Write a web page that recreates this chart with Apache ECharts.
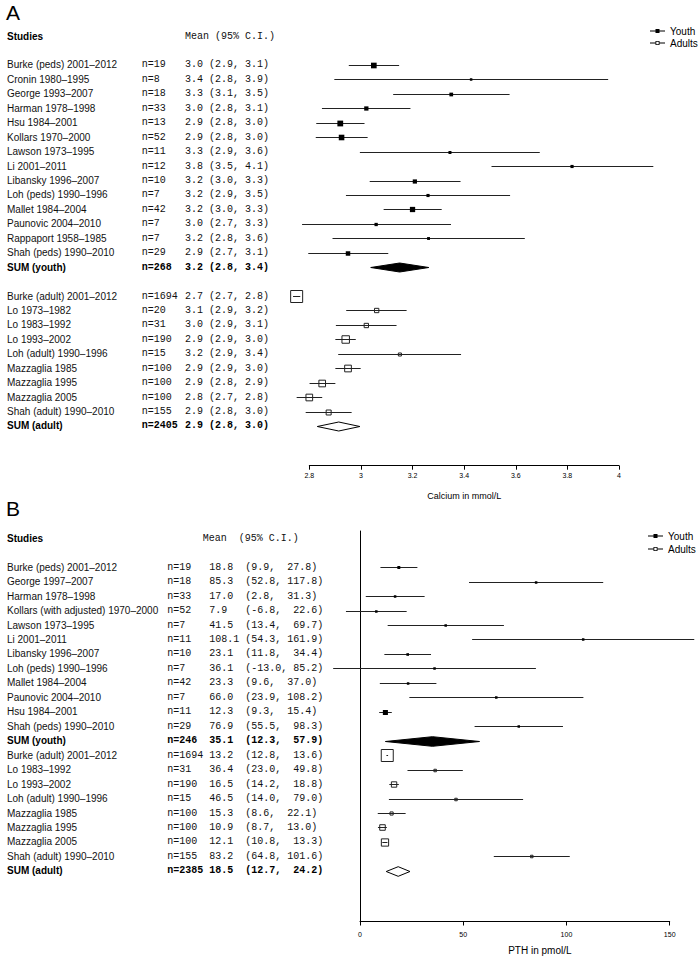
<!DOCTYPE html>
<html><head><meta charset="utf-8">
<script src="https://cdn.jsdelivr.net/npm/echarts@6/dist/echarts.min.js"></script>
<style>html,body{margin:0;padding:0;background:#fff}#c{width:700px;height:956px}</style>
</head><body><div id="c"></div>
<script>
// ---------------- Panel A: Calcium (mmol/L) ----------------
const A_youthNames = ["Burke (peds) 2001–2012", "Cronin 1980–1995", "George 1993–2007", "Harman 1978–1998", "Hsu 1984–2001", "Kollars 1970–2000", "Lawson 1973–1995", "Li 2001–2011", "Libansky 1996–2007", "Loh (peds) 1990–1996", "Mallet 1984–2004", "Paunovic 2004–2010", "Rappaport 1958–1985", "Shah (peds) 1990–2010", "SUM (youth)"];
const A_youthN = [19, 8, 18, 33, 13, 52, 11, 12, 10, 7, 42, 7, 7, 29, 268];
const A_youthText = ["3.0 (2.9, 3.1)", "3.4 (2.8, 3.9)", "3.3 (3.1, 3.5)", "3.0 (2.8, 3.1)", "2.9 (2.8, 3.0)", "2.9 (2.8, 3.0)", "3.3 (2.9, 3.6)", "3.8 (3.5, 4.1)", "3.2 (3.0, 3.3)", "3.2 (2.9, 3.5)", "3.2 (3.0, 3.3)", "3.0 (2.7, 3.3)", "3.2 (2.8, 3.6)", "2.9 (2.7, 3.1)", "3.2 (2.8, 3.4)"];
const A_youthMean = [3.050, 3.427, 3.350, 3.021, 2.920, 2.925, 3.345, 3.818, 3.209, 3.260, 3.200, 3.059, 3.262, 2.950, 3.150];
const A_youthLow  = [2.953, 2.897, 3.125, 2.849, 2.827, 2.825, 2.996, 3.506, 3.034, 2.942, 3.088, 2.772, 2.890, 2.796, 3.038];
const A_youthHigh = [3.148, 3.958, 3.576, 3.192, 3.014, 3.026, 3.693, 4.133, 3.386, 3.578, 3.313, 3.349, 3.635, 3.106, 3.263];

const A_adultNames = ["Burke (adult) 2001–2012", "Lo 1973–1982", "Lo 1983–1992", "Lo 1993–2002", "Loh (adult) 1990–1996", "Mazzaglia 1985", "Mazzaglia 1995", "Mazzaglia 2005", "Shah (adult) 1990–2010", "SUM (adult)"];
const A_adultN = [1694, 20, 31, 190, 15, 100, 100, 100, 155, 2405];
const A_adultText = ["2.7 (2.7, 2.8)", "3.1 (2.9, 3.2)", "3.0 (2.9, 3.1)", "2.9 (2.9, 3.0)", "3.2 (2.9, 3.4)", "2.9 (2.9, 3.0)", "2.9 (2.8, 2.9)", "2.8 (2.7, 2.8)", "2.9 (2.8, 3.0)", "2.9 (2.8, 3.0)"];
const A_adultMean = [2.751, 3.061, 3.021, 2.941, 3.151, 2.950, 2.850, 2.800, 2.875, 2.914];
const A_adultLow  = [2.737, 2.943, 2.903, 2.901, 2.912, 2.901, 2.801, 2.751, 2.786, 2.831];
const A_adultHigh = [2.765, 3.177, 3.138, 2.980, 3.388, 2.999, 2.901, 2.850, 2.964, 2.996];

// ---------------- Panel B: PTH (pmol/L) ----------------
const B_youthNames = ["Burke (peds) 2001–2012", "George 1997–2007", "Harman 1978–1998", "Kollars (with adjusted) 1970–2000", "Lawson 1973–1995", "Li 2001–2011", "Libansky 1996–2007", "Loh (peds) 1990–1996", "Mallet 1984–2004", "Paunovic 2004–2010", "Hsu 1984–2001", "Shah (peds) 1990–2010", "SUM (youth)"];
const B_youthN = [19, 18, 33, 52, 7, 11, 10, 7, 42, 7, 11, 29, 246];
const B_youthMean = [18.8, 85.3, 17.0, 7.9, 41.5, 108.1, 23.1, 36.1, 23.3, 66.0, 12.3, 76.9, 35.1];
const B_youthLow  = [9.9, 52.8, 2.8, -6.8, 13.4, 54.3, 11.8, -13.0, 9.6, 23.9, 9.3, 55.5, 12.3];
const B_youthHigh = [27.8, 117.8, 31.3, 22.6, 69.7, 161.9, 34.4, 85.2, 37.0, 108.2, 15.4, 98.3, 57.9];
const B_youthCI = ["(9.9,  27.8)", "(52.8, 117.8)", "(2.8,  31.3)", "(-6.8,  22.6)", "(13.4,  69.7)", "(54.3, 161.9)", "(11.8,  34.4)", "(-13.0, 85.2)", "(9.6,  37.0)", "(23.9, 108.2)", "(9.3,  15.4)", "(55.5,  98.3)", "(12.3,  57.9)"];

const B_adultNames = ["Burke (adult) 2001–2012", "Lo 1983–1992", "Lo 1993–2002", "Loh (adult) 1990–1996", "Mazzaglia 1985", "Mazzaglia 1995", "Mazzaglia 2005", "Shah (adult) 1990–2010", "SUM (adult)"];
const B_adultN = [1694, 31, 190, 15, 100, 100, 100, 155, 2385];
const B_adultMean = [13.2, 36.4, 16.5, 46.5, 15.3, 10.9, 12.1, 83.2, 18.5];
const B_adultLow  = [12.8, 23.0, 14.2, 14.0, 8.6, 8.7, 10.8, 64.8, 12.7];
const B_adultHigh = [13.6, 49.8, 18.8, 79.0, 22.1, 13.0, 13.3, 101.6, 24.2];
const B_adultCI = ["(12.8,  13.6)", "(23.0,  49.8)", "(14.2,  18.8)", "(14.0,  79.0)", "(8.6,  22.1)", "(8.7,  13.0)", "(10.8,  13.3)", "(64.8, 101.6)", "(12.7,  24.2)"];

const A_ticks = { min: 2.8, max: 4, interval: 0.2 };
const B_ticks = { min: 0, max: 150, interval: 50 };

// ---------------- helpers ----------------
const NB = '\u00a0';
const keep = s => s.replace(/ /g, NB);

function buildPanel(groups, headerText, gapRow, extraRows) {
  const names = ['Studies', ''], ns = ['', ''], txt = [headerText, ''];
  const bold = new Set();
  const seriesData = [];
  groups.forEach((g, gi) => {
    if (gi > 0 && gapRow) { names.push(''); ns.push(''); txt.push(''); }
    const items = [];
    g.names.forEach((nm, i) => {
      const row = names.length;
      names.push(nm); ns.push('n=' + g.n[i]); txt.push(keep(g.text[i]));
      if (i === g.names.length - 1) bold.add(row);
      items.push([g.low[i], g.mean[i], g.high[i], row]);
    });
    seriesData.push(items);
  });
  for (let k = 0; k < extraRows; k++) { names.push(''); ns.push(''); txt.push(''); }
  const boldNames = new Set(bold); boldNames.add(0);
  return { names, ns, txt, bold, boldNames, seriesData };
}

const PA = buildPanel([
  { names: A_youthNames, n: A_youthN, text: A_youthText, mean: A_youthMean, low: A_youthLow, high: A_youthHigh },
  { names: A_adultNames, n: A_adultN, text: A_adultText, mean: A_adultMean, low: A_adultLow, high: A_adultHigh }
], keep('Mean (95% C.I.)'), true, 0);

const B_youthText = B_youthMean.map((m, i) => m.toFixed(1).padEnd(6, ' ') + B_youthCI[i]);
const B_adultText = B_adultMean.map((m, i) => m.toFixed(1).padEnd(6, ' ') + B_adultCI[i]);
const PB = buildPanel([
  { names: B_youthNames, n: B_youthN, text: B_youthText, mean: B_youthMean, low: B_youthLow, high: B_youthHigh },
  { names: B_adultNames, n: B_adultN, text: B_adultText, mean: B_adultMean, low: B_adultLow, high: B_adultHigh }
], '', false, 3);
const B_header = PB.names.map((_, i) => i === 0 ? keep('Mean  (95% C.I.)') : '');

const SANS = 'Liberation Sans';
const MONO = 'Liberation Mono';

function render(k, filled, dh) {
  return function (params, api) {
    const lo = api.value(0), m = api.value(1), hi = api.value(2), row = api.value(3);
    const c = api.coord([m, row]);
    const y = Math.round(c[1]) + 0.5;
    const xl = api.coord([lo, row])[0], xh = api.coord([hi, row])[0], xm = c[0];
    if (params.dataIndex === params.dataInsideLength - 1) {
      return { type: 'polygon', shape: { points: [[xl, y], [xm, y - dh], [xh, y], [xm, y + dh]] },
        style: { fill: filled ? '#000' : '#fff', stroke: '#000', lineWidth: 1 } };
    }
    const s = Math.min(12, Math.max(2.5, k / Math.sqrt(hi - lo)));
    return { type: 'group', children: [
      { type: 'line', shape: { x1: xl, y1: y, x2: xh, y2: y }, style: { stroke: '#222', lineWidth: 1 } },
      { type: 'rect', shape: { x: xm - s / 2, y: y - s / 2, width: s, height: s },
        style: filled ? { fill: '#000' } : { fill: 'none', stroke: '#222', lineWidth: 1 } }
    ] };
  };
}

function labelAxis(gridIndex, data, marginPx, font, bold, showLine) {
  return {
    type: 'category', gridIndex, data, inverse: true, position: 'left',
    axisLine: { show: !!showLine, onZero: false, lineStyle: { color: '#000', width: 1 } },
    axisTick: { show: false }, splitLine: { show: false },
    axisLabel: {
      interval: 0, align: 'left', margin: marginPx, color: '#111', fontSize: 10, fontFamily: font,
      formatter: (v, i) => (bold.has(i) && v) ? '{b|' + v + '}' : v,
      rich: { b: { fontWeight: 'bold', fontSize: 10, fontFamily: font, color: '#000' } }
    }
  };
}

const GA = { left: 309.3, right: 81, top: 28.9, height: 404.3 };
const GB = { left: 360, right: 30.3, top: 531, height: 390.5 };

const youthIcon = 'path://M0,1.5L5.5,1.5L5.5,0L9.5,0L9.5,1.5L15,1.5L15,2.5L9.5,2.5L9.5,4L5.5,4L5.5,2.5L0,2.5Z';
const adultIcon = 'path://M0,1.5L5.5,1.5L5.5,0L9.5,0L9.5,1.5L15,1.5L15,2.5L9.5,2.5L9.5,4L5.5,4L5.5,2.5L0,2.5Z M6.3,0.8L6.3,3.2L8.7,3.2L8.7,0.8Z';

function legendAt(left, top, gap) {
  return {
    left, top, orient: 'vertical', itemWidth: 15, itemHeight: 4, itemGap: gap, padding: 0,
    selectedMode: false,
    textStyle: { fontSize: 10, color: '#000', fontFamily: SANS },
    data: [
      { name: 'Youth', icon: youthIcon, itemStyle: { color: '#000' } },
      { name: 'Adults', icon: adultIcon, itemStyle: { color: '#000' } }
    ]
  };
}

function xAx(gridIndex, t, name, offset, nameGap, namePad, nameSize, labelMargin) {
  return {
    type: 'value', gridIndex, min: t.min, max: t.max, interval: t.interval, offset,
    axisLine: { show: true, onZero: false, lineStyle: { color: '#000', width: 1 } },
    axisTick: { show: true, length: 4, lineStyle: { color: '#000' } },
    splitLine: { show: false },
    axisLabel: { fontSize: 7, color: '#000', fontFamily: SANS, margin: labelMargin },
    name, nameLocation: 'middle', nameGap,
    nameTextStyle: { fontSize: nameSize, color: '#000', fontFamily: SANS, padding: namePad }
  };
}

const chart = echarts.init(document.getElementById('c'), null, { renderer: 'svg' });
chart.setOption({
  animation: false,
  backgroundColor: '#fff',
  title: [
    { text: 'A', left: 6, top: 2, padding: 0, textStyle: { fontSize: 21, fontWeight: 'normal', fontFamily: SANS, color: '#000' } },
    { text: 'B', left: 6, top: 498, padding: 0, textStyle: { fontSize: 21, fontWeight: 'normal', fontFamily: SANS, color: '#000' } }
  ],
  legend: [legendAt(650, 26, 2), legendAt(648, 531, 3)],
  grid: [
    Object.assign({ outerBoundsMode: 'none', containLabel: false }, GA),
    Object.assign({ outerBoundsMode: 'none', containLabel: false }, GB)
  ],
  xAxis: [
    xAx(0, A_ticks, 'Calcium in mmol/L', 32.5, 26, [0, 0, 0, 0], 9, 6),
    xAx(1, B_ticks, 'PTH in pmol/L', 0, 24, [0, 0, 0, 50], 10, 9)
  ],
  yAxis: [
    labelAxis(0, PA.names, GA.left - 7, SANS, PA.boldNames, false),
    labelAxis(0, PA.ns, GA.left - 141.7, MONO, PA.bold, false),
    labelAxis(0, PA.txt, GA.left - 185, MONO, PA.bold, false),
    labelAxis(1, PB.names, GB.left - 7, SANS, PB.boldNames, true),
    labelAxis(1, PB.ns, GB.left - 167.3, MONO, PB.bold, false),
    labelAxis(1, PB.txt, GB.left - 209.3, MONO, PB.bold, false),
    labelAxis(1, B_header, GB.left - 202.7, MONO, new Set(), false)
  ],
  series: [
    { type: 'custom', name: 'Youth', xAxisIndex: 0, yAxisIndex: 0, clip: false, encode: { x: [0, 1, 2], y: 3 }, renderItem: render(2.5, true, 4.5), data: PA.seriesData[0] },
    { type: 'custom', name: 'Adults', xAxisIndex: 0, yAxisIndex: 0, clip: false, encode: { x: [0, 1, 2], y: 3 }, renderItem: render(2.1, false, 4.5), data: PA.seriesData[1] },
    { type: 'custom', name: 'Youth', xAxisIndex: 1, yAxisIndex: 3, clip: false, encode: { x: [0, 1, 2], y: 3 }, renderItem: render(12.5, true, 4.8), data: PB.seriesData[0] },
    { type: 'custom', name: 'Adults', xAxisIndex: 1, yAxisIndex: 3, clip: false, encode: { x: [0, 1, 2], y: 3 }, renderItem: render(11.5, false, 4.8), data: PB.seriesData[1] }
  ]
});
</script>
</body></html>
